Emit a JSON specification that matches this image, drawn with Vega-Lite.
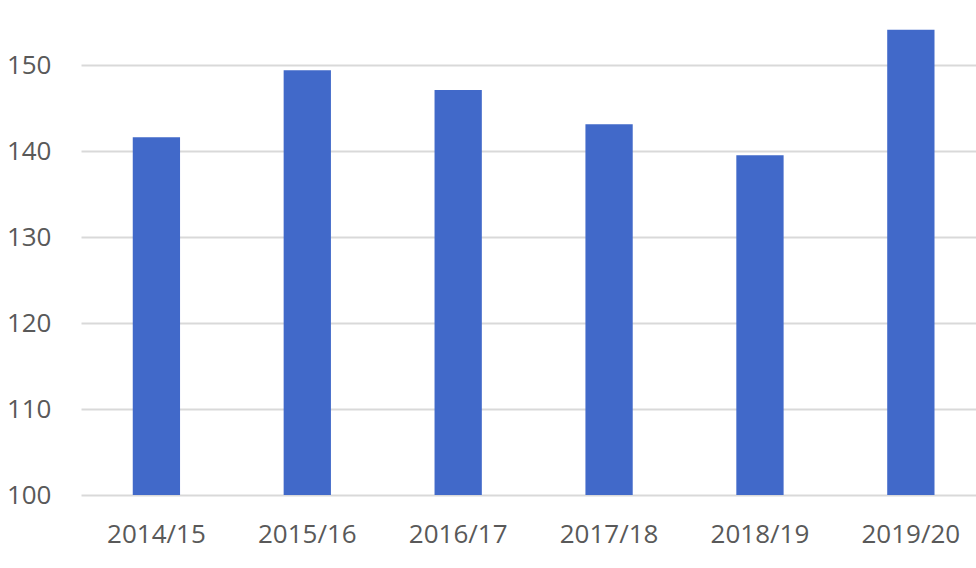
{
  "$schema": "https://vega.github.io/schema/vega-lite/v6.json",
  "autosize": {"type": "none"},
  "padding": {"left": 81, "top": 22, "right": 0, "bottom": 73},
  "width": 895,
  "height": 473,
  "background": "white",
  "config": {"view": {"stroke": null}},
  "data": {"values": [
    {"year": "2014/15", "value": 141.6},
    {"year": "2015/16", "value": 149.4},
    {"year": "2016/17", "value": 147.1},
    {"year": "2017/18", "value": 143.1},
    {"year": "2018/19", "value": 139.5},
    {"year": "2019/20", "value": 154.1}
  ]},
  "mark": {"type": "bar", "color": "#4169C9", "clip": true},
  "encoding": {
    "x": {
      "field": "year", "type": "nominal", "sort": null,
      "scale": {"paddingInner": 0.6866, "paddingOuter": 0.309, "align": 0.555},
      "axis": {"title": null, "labelAngle": 0, "ticks": false, "domain": false, "grid": false,
               "labelFont": "Open Sans", "labelFontSize": 26, "labelColor": "#595959", "labelPadding": 26}
    },
    "y": {
      "field": "value", "type": "quantitative",
      "scale": {"domain": [100, 155], "nice": false, "zero": false},
      "axis": {"title": null, "values": [100, 110, 120, 130, 140, 150], "ticks": false, "domain": false,
               "grid": true, "gridColor": "#d9d9d9", "gridWidth": 2,
               "labelFont": "Open Sans", "labelFontSize": 26, "labelColor": "#595959", "labelPadding": 30}
    }
  }
}
